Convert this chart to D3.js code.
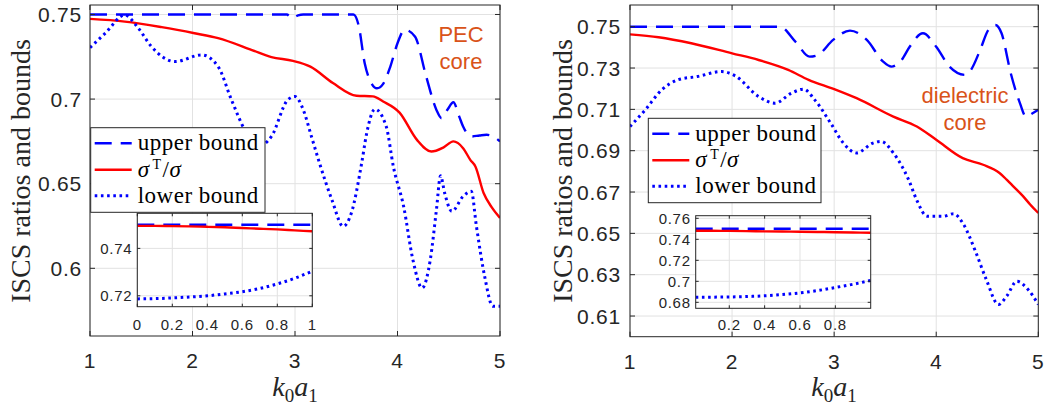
<!DOCTYPE html>
<html><head><meta charset="utf-8">
<script src="https://cdn.jsdelivr.net/npm/d3@7"></script>
<style>body{margin:0;background:#fff;} svg{display:block;}</style>
</head><body><svg id="c" width="1045" height="409"></svg>
<script>
// ---------------- DATA ----------------
// Left panel (PEC core)
const pecUpperX = [1, 1.5, 2, 2.5, 2.92, 2.97, 3.03, 3.08, 3.3, 3.57, 3.62, 3.68, 3.74, 3.80, 3.86, 3.93, 4.0, 4.07, 4.17, 4.28, 4.38, 4.43, 4.49, 4.545, 4.6, 4.64, 4.72, 4.8, 4.87, 4.93, 5.0];
const pecUpperY = [0.75, 0.75, 0.75, 0.75, 0.75, 0.7478, 0.7495, 0.75, 0.75, 0.75, 0.7438, 0.7212, 0.710, 0.7064, 0.709, 0.7192, 0.733, 0.7410, 0.737, 0.7133, 0.6936, 0.6887, 0.694, 0.6981, 0.690, 0.6838, 0.6779, 0.6785, 0.6789, 0.678, 0.675];
const pecRatioX = [1, 1.34, 1.7, 2.02, 2.25, 2.58, 2.77, 2.98, 3.15, 3.37, 3.60, 3.76, 3.86, 4.02, 4.19, 4.33, 4.45, 4.545, 4.64, 4.71, 4.76, 4.84, 4.92, 5.0];
const pecRatioY = [0.7474, 0.7458, 0.7425, 0.7389, 0.736, 0.729, 0.7248, 0.7226, 0.7192, 0.7095, 0.702, 0.7016, 0.6986, 0.692, 0.6759, 0.669, 0.6715, 0.675, 0.671, 0.6641, 0.6602, 0.6445, 0.636, 0.6298];
const pecLowerX = [1, 1.15, 1.34, 1.47, 1.60, 1.83, 2.09, 2.25, 2.38, 2.51, 2.64, 2.77, 2.93, 3.0, 3.08, 3.16, 3.24, 3.36, 3.47, 3.55, 3.65, 3.70, 3.78, 3.89, 3.96, 4.06, 4.15, 4.24, 4.32, 4.38, 4.42, 4.46, 4.53, 4.64, 4.72, 4.77, 4.85, 4.93, 5.0];
const pecLowerY = [0.7304, 0.739, 0.7497, 0.742, 0.731, 0.7222, 0.7261, 0.7192, 0.6996, 0.6818, 0.672, 0.6779, 0.6996, 0.7015, 0.6938, 0.678, 0.662, 0.6405, 0.6248, 0.6327, 0.662, 0.680, 0.694, 0.6838, 0.660, 0.6365, 0.6051, 0.5884, 0.6051, 0.6347, 0.6547, 0.6445, 0.6337, 0.6425, 0.6455, 0.6248, 0.5953, 0.5776, 0.5776];
// Left inset
const pecInsetX = [0, 0.1, 0.2, 0.3, 0.4, 0.5, 0.6, 0.7, 0.8, 0.9, 1.0];
const pecInsetUpper = [0.75, 0.75, 0.75, 0.75, 0.75, 0.75, 0.75, 0.75, 0.75, 0.75, 0.75];
const pecInsetRatio = [0.7495, 0.7495, 0.7494, 0.7493, 0.7491, 0.7489, 0.7486, 0.7483, 0.7480, 0.7476, 0.7472];
const pecInsetLower = [0.7187, 0.7188, 0.7191, 0.7195, 0.7200, 0.7208, 0.7217, 0.7231, 0.7250, 0.7274, 0.7304];

// Right panel (dielectric core)
const dieUpperX = [1, 1.5, 2, 2.47, 2.62, 2.76, 2.84, 2.99, 3.155, 3.32, 3.48, 3.56, 3.66, 3.74, 3.87, 4.0, 4.13, 4.28, 4.34, 4.43, 4.51, 4.58, 4.64, 4.73, 4.82, 4.88, 4.94, 5.0];
const dieUpperY = [0.75, 0.75, 0.75, 0.75, 0.7428, 0.7355, 0.7363, 0.7436, 0.7481, 0.7436, 0.7331, 0.7307, 0.7339, 0.7403, 0.7468, 0.7403, 0.7307, 0.7267, 0.7291, 0.7387, 0.7484, 0.7508, 0.7468, 0.7275, 0.713, 0.7065, 0.708, 0.7098];
const dieRatioX = [1, 1.28, 1.6, 2.0, 2.26, 2.55, 2.75, 3.0, 3.22, 3.58, 3.81, 4.0, 4.26, 4.46, 4.62, 4.69, 4.76, 4.85, 4.92, 5.0];
const dieRatioY = [0.7463, 0.7449, 0.742, 0.7371, 0.7339, 0.7291, 0.7243, 0.7198, 0.7154, 0.7065, 0.7017, 0.6953, 0.6864, 0.6832, 0.6792, 0.676, 0.6725, 0.668, 0.664, 0.6599];
const dieLowerX = [1, 1.15, 1.31, 1.47, 1.66, 1.90, 2.03, 2.26, 2.42, 2.58, 2.70, 2.81, 2.97, 3.09, 3.22, 3.38, 3.46, 3.58, 3.73, 3.81, 3.91, 4.07, 4.17, 4.26, 4.39, 4.49, 4.61, 4.69, 4.79, 4.90, 5.0];
const dieLowerY = [0.7017, 0.7098, 0.7194, 0.7243, 0.7259, 0.7283, 0.7262, 0.7162, 0.713, 0.7178, 0.7198, 0.7146, 0.703, 0.6937, 0.6889, 0.6937, 0.6945, 0.6889, 0.6759, 0.666, 0.6583, 0.6583, 0.6595, 0.655, 0.6406, 0.6277, 0.6156, 0.6196, 0.6268, 0.6228, 0.6156];
// Right inset
const dieInsetX = [0.01, 0.1, 0.2, 0.3, 0.4, 0.5, 0.6, 0.7, 0.8, 0.9, 1.0];
const dieInsetUpper = [0.75, 0.75, 0.75, 0.75, 0.75, 0.75, 0.75, 0.75, 0.75, 0.75, 0.75];
const dieInsetRatio = [0.7482, 0.7481, 0.7480, 0.7478, 0.7476, 0.7474, 0.7472, 0.7470, 0.7468, 0.7465, 0.7463];
const dieInsetLower = [0.6848, 0.6849, 0.6851, 0.6855, 0.6862, 0.6874, 0.6890, 0.6912, 0.6941, 0.6972, 0.7008];

// Ticks
const mainXTicks = [1, 2, 3, 4, 5];
const pecYTicks = [0.6, 0.65, 0.7, 0.75];
const dieYTicks = [0.61, 0.63, 0.65, 0.67, 0.69, 0.71, 0.73, 0.75];
const pecInsetXTicks = [0, 0.2, 0.4, 0.6, 0.8, 1];
const pecInsetYTicks = [0.72, 0.74];
const dieInsetXTicks = [0.2, 0.4, 0.6, 0.8];
const dieInsetYTicks = [0.68, 0.7, 0.72, 0.74, 0.76];
const legendLabels = ['upper bound', 'ratio', 'lower bound'];
const yLabel = 'ISCS ratios and bounds';

// ---------------- DRAWING ----------------
const svg = d3.select('#c');
const SANS = "'Liberation Sans', Arial, sans-serif";
const SERIF = "'Liberation Serif', 'Times New Roman', serif";
const AX = '#262626', GRID = '#e2e2e2';
const BLUE = '#0000ff', RED = '#ff0000', ORANGE = '#d95319';
let clipN = 0;
const fmt = d => String(+d.toFixed(3));

const styles = [
  {color: BLUE, width: 2.4, dash: '17,9'},
  {color: RED, width: 2.4, dash: null},
  {color: BLUE, width: 3, dash: '2.6,3.6'}
];

function axes(p) {
  const g = svg.append('g');
  const x = d3.scaleLinear().domain(p.xDomain).range([p.l, p.r]);
  const y = d3.scaleLinear().domain(p.yDomain).range([p.b, p.t]);
  if (p.bg) g.append('rect').attr('x', p.l).attr('y', p.t).attr('width', p.r - p.l).attr('height', p.b - p.t).attr('fill', '#fff');
  g.selectAll(null).data(p.xTicks).enter().append('line')
    .attr('x1', d => x(d)).attr('x2', d => x(d)).attr('y1', p.t).attr('y2', p.b)
    .attr('stroke', GRID).attr('stroke-width', 1);
  g.selectAll(null).data(p.yTicks).enter().append('line')
    .attr('y1', d => y(d)).attr('y2', d => y(d)).attr('x1', p.l).attr('x2', p.r)
    .attr('stroke', GRID).attr('stroke-width', 1);
  const id = 'clip' + (clipN++);
  svg.append('clipPath').attr('id', id).append('rect')
    .attr('x', p.l).attr('y', p.t).attr('width', p.r - p.l).attr('height', p.b - p.t);
  const lg = g.append('g').attr('clip-path', `url(#${id})`);
  p.series.forEach((s, i) => {
    const st = styles[i];
    const pts = s.x.map((xv, k) => [xv, s.y[k]]);
    lg.append('path').datum(pts)
      .attr('d', d3.line().x(d => x(d[0])).y(d => y(d[1])).curve(d3.curveMonotoneX))
      .attr('fill', 'none').attr('stroke', st.color).attr('stroke-width', st.width)
      .attr('stroke-dasharray', st.dash).attr('stroke-linecap', 'butt');
  });
  g.append('rect').attr('x', p.l).attr('y', p.t).attr('width', p.r - p.l).attr('height', p.b - p.t)
    .attr('fill', 'none').attr('stroke', AX).attr('stroke-width', 1);
  const tl = p.tickLen;
  p.xTicks.forEach(d => {
    g.append('line').attr('x1', x(d)).attr('x2', x(d)).attr('y1', p.b).attr('y2', p.b - tl).attr('stroke', AX);
    g.append('line').attr('x1', x(d)).attr('x2', x(d)).attr('y1', p.t).attr('y2', p.t + tl).attr('stroke', AX);
  });
  p.yTicks.forEach(d => {
    g.append('line').attr('y1', y(d)).attr('y2', y(d)).attr('x1', p.l).attr('x2', p.l + tl).attr('stroke', AX);
    g.append('line').attr('y1', y(d)).attr('y2', y(d)).attr('x1', p.r).attr('x2', p.r - tl).attr('stroke', AX);
  });
  g.selectAll(null).data(p.xTicks).enter().append('text')
    .attr('x', d => x(d)).attr('y', p.b + p.xLabOff).attr('text-anchor', 'middle')
    .attr('font-family', SANS).attr('font-size', p.fs).attr('letter-spacing', p.ls).attr('fill', AX)
    .text(fmt);
  g.selectAll(null).data(p.yTicks).enter().append('text')
    .attr('x', p.l - p.yLabOff).attr('y', d => y(d)).attr('dy', '0.36em').attr('text-anchor', 'end')
    .attr('font-family', SANS).attr('font-size', p.fs).attr('letter-spacing', p.ls).attr('fill', AX)
    .text(fmt);
  return {x, y, g};
}

function legend(lx, ly, w, h) {
  const g = svg.append('g');
  g.append('rect').attr('x', lx).attr('y', ly).attr('width', w).attr('height', h)
    .attr('fill', '#fff').attr('stroke', AX).attr('stroke-width', 1);
  const offs = [15.5, 42, 68];
  legendLabels.forEach((lab, i) => {
    const st = styles[i];
    const yy = ly + offs[i];
    g.append('line').attr('x1', lx + 4).attr('x2', lx + 41).attr('y1', yy).attr('y2', yy)
      .attr('stroke', st.color).attr('stroke-width', st.width).attr('stroke-dasharray', st.dash);
    const t = g.append('text').attr('x', lx + 47).attr('y', yy + 7)
      .attr('font-family', SERIF).attr('font-size', 23).attr('letter-spacing', 0.5).attr('fill', '#000');
    if (lab === 'ratio') {
      t.append('tspan').attr('font-style', 'italic').text('σ');
      t.append('tspan').attr('font-size', 14).attr('dy', -8).attr('dx', 3).text('T');
      t.append('tspan').attr('dy', 8).attr('dx', 1).text('/');
      t.append('tspan').attr('font-style', 'italic').text('σ');
    } else {
      t.text(lab);
    }
  });
}

function xLabel(cx, by) {
  const t = svg.append('text').attr('x', cx).attr('y', by).attr('text-anchor', 'middle')
    .attr('font-family', SERIF).attr('font-size', 28).attr('fill', AX);
  t.append('tspan').attr('font-style', 'italic').text('k');
  t.append('tspan').attr('font-size', 19).attr('dy', 6).text('0');
  t.append('tspan').attr('font-style', 'italic').attr('dy', -6).text('a');
  t.append('tspan').attr('font-size', 19).attr('dy', 6).text('1');
}

function yLab(bx, cy) {
  svg.append('text').attr('transform', `translate(${bx},${cy}) rotate(-90)`)
    .attr('text-anchor', 'middle').attr('font-family', SERIF).attr('font-size', 28).attr('fill', AX)
    .text(yLabel);
}

function note(cx, y1, lines) {
  lines.forEach((s, i) => {
    svg.append('text').attr('x', cx).attr('y', y1 + i * 27).attr('text-anchor', 'middle')
      .attr('font-family', SANS).attr('font-size', 22).attr('fill', ORANGE).text(s);
  });
}

// ---- Left panel ----
axes({l: 90, r: 500, t: 5, b: 336, xDomain: [1, 5], yDomain: [0.56, 0.7556],
  xTicks: mainXTicks, yTicks: pecYTicks, tickLen: 5, fs: 21, ls: 0.8, xLabOff: 32, yLabOff: 8,
  series: [{x: pecUpperX, y: pecUpperY}, {x: pecRatioX, y: pecRatioY}, {x: pecLowerX, y: pecLowerY}]});
note(461, 42, ['PEC', 'core']);
axes({l: 137.3, r: 312.3, t: 213.3, b: 306.7, xDomain: [0, 1], yDomain: [0.7154, 0.7548], bg: true,
  xTicks: pecInsetXTicks, yTicks: pecInsetYTicks, tickLen: 3, fs: 15, ls: 0.7, xLabOff: 23, yLabOff: 5,
  series: [{x: pecInsetX, y: pecInsetUpper}, {x: pecInsetX, y: pecInsetRatio}, {x: pecInsetX, y: pecInsetLower}]});
legend(90.7, 127.7, 174.3, 84.6);
xLabel(295, 396);
yLab(30, 171);

// ---- Right panel ----
axes({l: 630, r: 1038.3, t: 5, b: 336.7, xDomain: [1, 5], yDomain: [0.6, 0.7605],
  xTicks: mainXTicks, yTicks: dieYTicks, tickLen: 5, fs: 21, ls: 0.8, xLabOff: 32, yLabOff: 9,
  series: [{x: dieUpperX, y: dieUpperY}, {x: dieRatioX, y: dieRatioY}, {x: dieLowerX, y: dieLowerY}]});
note(965, 103, ['dielectric', 'core']);
axes({l: 695.7, r: 870.7, t: 215.7, b: 308.3, xDomain: [0.01, 1], yDomain: [0.6743, 0.7625], bg: true,
  xTicks: dieInsetXTicks, yTicks: dieInsetYTicks, tickLen: 3, fs: 15, ls: 0.7, xLabOff: 22, yLabOff: 5,
  series: [{x: dieInsetX, y: dieInsetUpper}, {x: dieInsetX, y: dieInsetRatio}, {x: dieInsetX, y: dieInsetLower}]});
legend(648.3, 118.3, 172.7, 84.4);
xLabel(834, 396);
yLab(572, 171);
</script>
</body></html>
